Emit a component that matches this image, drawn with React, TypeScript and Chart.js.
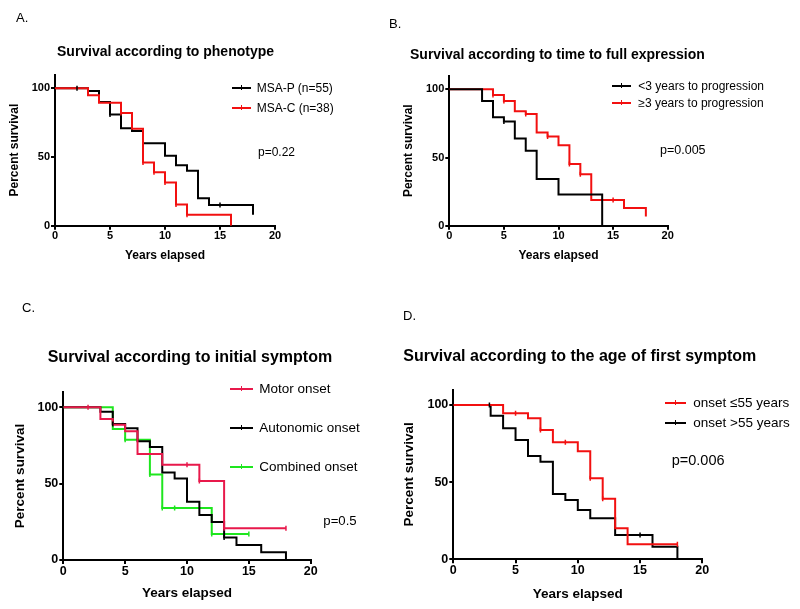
import React, { useEffect, useRef } from 'react';
import { Chart, registerables } from 'chart.js';

Chart.register(...registerables);

const FONT = '"Liberation Sans", Arial, Helvetica, sans-serif';

// ---------- Panel A: phenotype ----------
const aTitle = 'Survival according to phenotype';
const aLabels = ['MSA-P (n=55)', 'MSA-C (n=38)'];
const aMsaPTimes = [0, 3, 4, 5, 6, 7, 8, 10, 11, 12, 13, 14, 18];
const aMsaPSurv = [100, 98, 90, 81, 71, 69, 60, 51, 44, 40, 20, 15, 8];
const aMsaPCensor = [2, 5, 15];
const aMsaCTimes = [0, 3, 4, 6, 7, 8, 9, 10, 11, 12, 16];
const aMsaCSurv = [100, 95, 89.5, 82, 70.5, 46, 39, 31.5, 15.5, 8, 0];
const aMsaCCensor = [6, 8, 9, 10, 11, 12];
const aP = 'p=0.22';

// ---------- Panel B: time to full expression ----------
const bTitle = 'Survival according to time to full expression';
const bLabels = ['<3 years to progression', '\u22653 years to progression'];
const bLtTimes = [0, 3, 4, 5, 6, 7, 8, 10, 14];
const bLtSurv = [100, 91.5, 79.5, 76.5, 64, 55, 34.2, 22.8, 0];
const bLtCensor = [5];
const bGeTimes = [0, 4, 5, 6, 7, 8, 9, 10, 11, 12, 13, 16, 18];
const bGeSurv = [100, 95.8, 91.5, 84, 82, 68.3, 65.5, 59, 45.3, 37.8, 18.9, 12.9, 6.8];
const bGeCensor = [4, 5, 7, 9, 11, 12, 15];
const bP = 'p=0.005';

// ---------- Panel C: initial symptom ----------
const cTitle = 'Survival according to initial symptom';
const cLabels = ['Motor onset', 'Autonomic onset', 'Combined onset'];
const cMotorTimes = [0, 3, 4, 5, 6, 8, 11, 13, 18];
const cMotorSurv = [100, 92.3, 88.6, 84.3, 69.4, 62.3, 51.8, 20.8, 20.8];
const cMotorCensor = [2, 10, 11, 13, 18];
const cAutoTimes = [0, 3, 4, 5, 6, 7, 8, 9, 10, 11, 12, 13, 14, 16, 18];
const cAutoSurv = [100, 97, 89, 86.3, 77.7, 74, 57.3, 53.3, 38.2, 29.5, 24.8, 14.8, 9.8, 5, 0];
const cAutoCensor = [4, 13];
const cCombTimes = [0, 4, 5, 7, 8, 12, 15];
const cCombSurv = [100, 85.8, 78.8, 56, 34, 17, 17];
const cCombCensor = [5, 7, 8, 9, 12, 15];
const cP = 'p=0.5';

// ---------- Panel D: age of first symptom ----------
const dTitle = 'Survival according to the age of first symptom';
const dLabels = ['onset \u226455 years', 'onset >55 years'];
const dLeTimes = [0, 4, 6, 7, 8, 10, 11, 12, 13, 14, 18];
const dLeSurv = [100, 94.6, 91.4, 83.8, 75.8, 70, 52.5, 39.2, 20.1, 9.8, 9.8];
const dLeCensor = [5, 7, 9, 11, 12, 18];
const dGtTimes = [0, 3, 4, 5, 6, 7, 8, 9, 10, 11, 13, 16, 18];
const dGtSurv = [100, 93, 85, 77.3, 67, 63.3, 42.3, 38.4, 32, 26.6, 15.8, 8.2, 0];
const dGtCensor = [2.9, 15];
const dP = 'p=0.006';

// shared axis content
const xTicksStep = 5;
const yTickValues = [0, 50, 100];
const xTitle = 'Years elapsed';
const yTitle = 'Percent survival';

const BLACK = '#000000';
const RED = '#f21010';
const CRIMSON = '#e8194b';
const GREEN = '#1ee61e';

type Series = { color: string; times: number[]; surv: number[]; censor: number[]; top?: boolean };
type Area = { l: number; t: number; r: number; b: number };
type PanelCfg = {
  series: Series[];
  area: Area;
  yW: number;
  xH: number;
  tickSize: number;
  axisTitleSize: number;
  tickLen: number;
};

const stepPoints = (s: Series) => s.times.map((t, i) => ({ x: t, y: s.surv[i] }));
const censorPoints = (s: Series) =>
  s.censor.map((c) => {
    let v = s.surv[0];
    for (let i = 0; i < s.times.length; i++) if (s.times[i] <= c) v = s.surv[i];
    return { x: c, y: v };
  });

const panels: PanelCfg[] = [
  {
    series: [
      { color: BLACK, times: aMsaPTimes, surv: aMsaPSurv, censor: aMsaPCensor },
      { color: RED, times: aMsaCTimes, surv: aMsaCSurv, censor: aMsaCCensor, top: true },
    ],
    area: { l: 55, t: 74.6, r: 275, b: 225.7 },
    yW: 47.5,
    xH: 37.5,
    tickSize: 11,
    axisTitleSize: 12,
    tickLen: 4,
  },
  {
    series: [
      { color: BLACK, times: bLtTimes, surv: bLtSurv, censor: bLtCensor, top: true },
      { color: RED, times: bGeTimes, surv: bGeSurv, censor: bGeCensor },
    ],
    area: { l: 449.3, t: 75.7, r: 667.7, b: 225.7 },
    yW: 47.7,
    xH: 37.5,
    tickSize: 11,
    axisTitleSize: 12,
    tickLen: 4,
  },
  {
    series: [
      { color: CRIMSON, times: cMotorTimes, surv: cMotorSurv, censor: cMotorCensor, top: true },
      { color: BLACK, times: cAutoTimes, surv: cAutoSurv, censor: cAutoCensor },
      { color: GREEN, times: cCombTimes, surv: cCombSurv, censor: cCombCensor },
    ],
    area: { l: 63.3, t: 392, r: 310.7, b: 560 },
    yW: 51.2,
    xH: 41.6,
    tickSize: 12.5,
    axisTitleSize: 13.5,
    tickLen: 4,
  },
  {
    series: [
      { color: RED, times: dLeTimes, surv: dLeSurv, censor: dLeCensor, top: true },
      { color: BLACK, times: dGtTimes, surv: dGtSurv, censor: dGtCensor },
    ],
    area: { l: 453.3, t: 389.6, r: 702.3, b: 559.3 },
    yW: 52.1,
    xH: 42.6,
    tickSize: 12.5,
    axisTitleSize: 13.5,
    tickLen: 4,
  },
];

function makeChart(canvas: HTMLCanvasElement, p: PanelCfg) {
  const W = 800;
  const H = 609;
  const lines = p.series.map((s) => ({
    data: stepPoints(s),
    borderColor: s.color,
    borderWidth: 2,
    stepped: true as const,
    pointRadius: 0,
    fill: false,
    order: s.top ? 1 : 2,
  }));
  const ticks = p.series.map((s) => ({
    data: censorPoints(s),
    showLine: false,
    borderColor: s.color,
    pointStyle: 'line' as const,
    pointRotation: 90,
    pointRadius: 2.5,
    pointBorderWidth: 1.5,
    pointBorderColor: s.color,
    order: 0,
  }));
  const axisCommon = {
    type: 'linear' as const,
    grid: {
      drawOnChartArea: false,
      drawTicks: true,
      tickLength: p.tickLen,
      color: BLACK,
      lineWidth: 2,
    },
    border: { display: true, color: BLACK, width: 2 },
  };
  return new Chart(canvas, {
    type: 'line',
    data: { datasets: [...lines, ...ticks] as any },
    options: {
      animation: false,
      responsive: false,
      devicePixelRatio: 1,
      events: [],
      layout: {
        padding: {
          left: p.area.l - p.yW,
          top: p.area.t,
          right: W - p.area.r,
          bottom: H - (p.area.b + p.xH),
        },
      },
      plugins: { legend: { display: false }, tooltip: { enabled: false }, title: { display: false } },
      scales: {
        x: {
          ...axisCommon,
          min: 0,
          max: 20,
          ticks: {
            stepSize: xTicksStep,
            color: BLACK,
            padding: 0,
            font: { family: FONT, size: p.tickSize, weight: 'bold' },
          },
          title: {
            display: true,
            text: xTitle,
            color: BLACK,
            padding: 0,
            font: { family: FONT, size: p.axisTitleSize, weight: 'bold' },
          },
          afterFit: (s: any) => {
            s.height = p.xH;
          },
        },
        y: {
          ...axisCommon,
          min: 0,
          max: 110,
          afterBuildTicks: (s: any) => {
            s.ticks = yTickValues.map((v) => ({ value: v }));
          },
          ticks: {
            color: BLACK,
            padding: 1,
            font: { family: FONT, size: p.tickSize, weight: 'bold' },
          },
          title: {
            display: true,
            text: yTitle,
            color: BLACK,
            padding: 0,
            font: { family: FONT, size: p.axisTitleSize, weight: 'bold' },
          },
          afterFit: (s: any) => {
            s.width = p.yW;
          },
        },
      },
    } as any,
  });
}

const ChartCanvas = ({ cfg }: { cfg: PanelCfg }) => {
  const ref = useRef<HTMLCanvasElement | null>(null);
  useEffect(() => {
    if (!ref.current) return;
    const ch = makeChart(ref.current, cfg);
    return () => ch.destroy();
  }, [cfg]);
  return (
    <canvas
      ref={ref}
      width={800}
      height={609}
      style={{ position: 'absolute', left: 0, top: 0, width: 800, height: 609 }}
    />
  );
};

const Txt = ({ x, y, size, bold, children }: { x: number; y: number; size: number; bold?: boolean; children: any }) => (
  <div
    style={{
      position: 'absolute',
      left: x,
      top: y,
      transform: 'translateY(-50%)',
      fontSize: size,
      fontWeight: bold ? 'bold' : 'normal',
      lineHeight: 1,
      whiteSpace: 'nowrap',
      fontFamily: FONT,
      color: '#000',
    }}
  >
    {children}
  </div>
);

const LegendItem = ({ x1, x2, tx, y, color, size, label }: { x1: number; x2: number; tx: number; y: number; color: string; size: number; label: string }) => (
  <>
    <div style={{ position: 'absolute', left: x1, top: y - 1, width: x2 - x1, height: 2, background: color }} />
    <div style={{ position: 'absolute', left: (x1 + x2) / 2 - 0.75, top: y - 3, width: 1.5, height: 5, background: color }} />
    <Txt x={tx} y={y} size={size}>
      {label}
    </Txt>
  </>
);

export default function App() {
  return (
    <div style={{ position: 'absolute', left: 0, top: 0, width: 800, height: 609, background: '#fff', overflow: 'hidden' }}>
      {panels.map((p, i) => (
        <ChartCanvas key={i} cfg={p} />
      ))}

      {/* Panel A */}
      <Txt x={16} y={17} size={13}>A.</Txt>
      <Txt x={57} y={50.7} size={14} bold>{aTitle}</Txt>
      <LegendItem x1={232} x2={251} tx={256.7} y={88.3} color={BLACK} size={12} label={aLabels[0]} />
      <LegendItem x1={232} x2={251} tx={256.7} y={108.3} color={RED} size={12} label={aLabels[1]} />
      <Txt x={258} y={151.7} size={12}>{aP}</Txt>

      {/* Panel B */}
      <Txt x={389} y={23.3} size={13}>B.</Txt>
      <Txt x={410} y={53.5} size={14} bold>{bTitle}</Txt>
      <LegendItem x1={612.3} x2={631} tx={638.3} y={86} color={BLACK} size={12} label={bLabels[0]} />
      <LegendItem x1={612.3} x2={631} tx={638.3} y={103.3} color={RED} size={12} label={bLabels[1]} />
      <Txt x={660} y={149.5} size={12.5}>{bP}</Txt>

      {/* Panel C */}
      <Txt x={22} y={307} size={13}>C.</Txt>
      <Txt x={47.7} y={356.5} size={16} bold>{cTitle}</Txt>
      <LegendItem x1={230} x2={253.3} tx={259.3} y={389.3} color={CRIMSON} size={13.5} label={cLabels[0]} />
      <LegendItem x1={230} x2={253.3} tx={259.3} y={427.7} color={BLACK} size={13.5} label={cLabels[1]} />
      <LegendItem x1={230} x2={253.3} tx={259.3} y={466.7} color={GREEN} size={13.5} label={cLabels[2]} />
      <Txt x={323.3} y={520.5} size={13.2}>{cP}</Txt>

      {/* Panel D */}
      <Txt x={403} y={314.5} size={13}>D.</Txt>
      <Txt x={403.3} y={356} size={16} bold>{dTitle}</Txt>
      <LegendItem x1={665} x2={686} tx={693.3} y={403.3} color={RED} size={13.5} label={dLabels[0]} />
      <LegendItem x1={665} x2={686} tx={693.3} y={423.3} color={BLACK} size={13.5} label={dLabels[1]} />
      <Txt x={671.7} y={460} size={14.5}>{dP}</Txt>
    </div>
  );
}
